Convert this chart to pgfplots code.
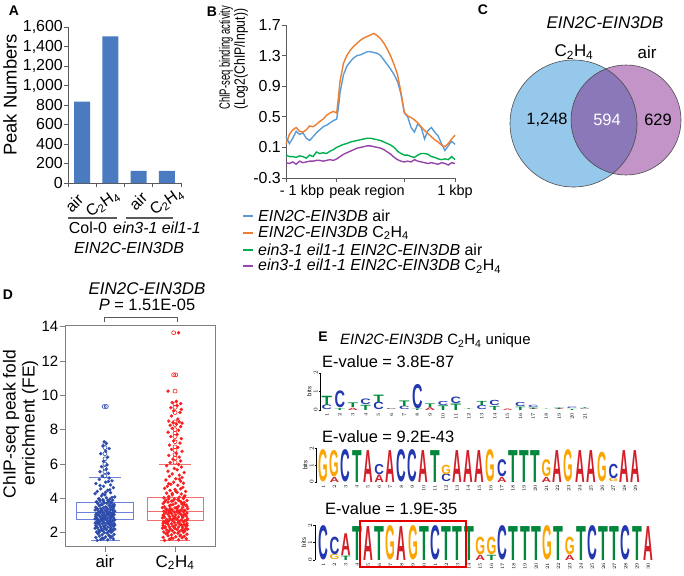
\documentclass[border=0pt]{standalone}
\usepackage{pgfplots}
\pgfplotsset{compat=1.18}
\usepgfplotslibrary{statistics}
\usepackage{graphicx}
\usepackage{fontspec}
\setmainfont{Liberation Sans}
\newcommand{\fs}[1]{\fontsize{#1}{#1}\selectfont}
\newcommand{\CH}{C\textsubscript{2}H\textsubscript{4}}
\definecolor{barblue}{RGB}{74,122,192}
\definecolor{bblue}{RGB}{91,155,213}
\definecolor{borange}{RGB}{237,125,49}
\definecolor{bgreen}{RGB}{0,176,80}
\definecolor{bpurple}{RGB}{150,70,170}
\definecolor{vblue}{RGB}{150,200,236}
\definecolor{vpurple}{RGB}{194,148,200}
\definecolor{voverlap}{RGB}{138,120,184}
\definecolor{dblue}{RGB}{45,75,170}
\definecolor{dbluebox}{RGB}{110,130,220}
\definecolor{dred}{RGB}{250,30,30}
\definecolor{dredbox}{RGB}{240,110,110}
\definecolor{lgA}{RGB}{210,30,40}
\definecolor{lgC}{RGB}{35,55,175}
\definecolor{lgG}{RGB}{250,165,0}
\definecolor{lgT}{RGB}{0,135,60}
\definecolor{axgray}{RGB}{90,90,90}
\newdimen\bitpx
\newdimen\lw
\newcommand{\LA}{\textcolor{lgA}{A}}
\newcommand{\LC}{\textcolor{lgC}{C}}
\newcommand{\LG}{\textcolor{lgG}{G}}
\newcommand{\LT}{\textcolor{lgT}{T}}
\newcommand{\logoL}[4]{\node[anchor=south,inner sep=0pt,outer sep=0pt] at (axis cs:#1,#2) {\resizebox{\lw}{#3\bitpx}{\bfseries\csname L#4\endcsname}};}
\pgfplotsset{logo/.style={scale only axis,anchor=south west,ymin=0,ymax=2,clip=false,
  axis y line*=left,axis x line*=bottom,x axis line style={draw=none},
  axis line style={black,line width=0.5bp},tick style={black,line width=0.5bp},
  tick align=outside,major tick length=2bp,
  ytick={0,1,2},yticklabel style={rotate=90,anchor=south,font=\fs{6},inner sep=0.8bp},
  xtick style={draw=none},xticklabel style={rotate=90,anchor=east,font=\fs{5.5},inner sep=1bp},
  ylabel={bits},ylabel style={font=\fs{6},yshift=-2bp}}}
\begin{document}
\begin{tikzpicture}[x=1bp,y=1bp]
\useasboundingbox (0,0) rectangle (684,-576);

% ================= A =================
\begin{axis}[at={(68bp,-183bp)},anchor=south west,scale only axis,width=113bp,height=156bp,
 xmin=-0.5,xmax=3.5,ymin=0,ymax=1600,enlargelimits=false,
 axis x line*=bottom,axis y line*=left,
 axis line style={axgray,line width=0.9bp},tick style={axgray,line width=0.9bp},
 tick align=outside,major tick length=4bp,
 ytick={0,200,400,600,800,1000,1200,1400,1600},
 yticklabels={0,200,400,600,800,{1,000},{1,200},{1,400},{1,600}},
 yticklabel style={font=\fs{16},inner sep=1bp},
 xtick={-0.5,0.5,1.5,2.5,3.5},xticklabels={},
 ybar,bar width=16bp]
\addplot[fill=barblue,draw=none] coordinates {(0,835) (1,1505) (2,125) (3,125)};
\end{axis}
\node[inner sep=0pt,font=\fs{14}\bfseries] at (14,-11) {A};
\node[inner sep=0pt,rotate=90,font=\fs{18.5}] at (10,-95) {Peak Numbers};
\node[inner sep=0pt,rotate=45,font=\fs{16}] at (74,-203) {air};
\node[inner sep=0pt,rotate=35,font=\fs{16}] at (103,-204) {\CH};
\node[inner sep=0pt,rotate=45,font=\fs{16}] at (138,-201) {air};
\node[inner sep=0pt,rotate=35,font=\fs{16}] at (167,-202) {\CH};
\draw[axgray,line width=1.2bp] (68,-218)--(117,-218);
\draw[axgray,line width=1.2bp] (126,-218)--(173,-218);
\node[inner sep=0pt,font=\fs{16}] at (88,-228) {Col-0};
\node[inner sep=0pt,font=\fs{16}] at (157,-228) {\textit{ein3-1 eil1-1}};
\node[inner sep=0pt,font=\fs{16}] at (129,-248) {\textit{EIN2C-EIN3DB}};

% ================= B =================
\begin{axis}[at={(286bp,-178bp)},anchor=south west,scale only axis,width=169bp,height=153bp,
 xmin=0,xmax=100,ymin=-0.3,ymax=1.7,enlargelimits=false,
 axis x line*=bottom,axis y line*=left,
 axis line style={axgray,line width=0.9bp},tick style={axgray,line width=0.9bp},
 tick align=outside,major tick length=4bp,
 ytick={-0.3,0.1,0.5,0.9,1.3,1.7},yticklabels={-0.3,0.1,0.5,0.9,1.3,1.7},
 yticklabel style={font=\fs{16},inner sep=1bp},
 xtick={0,30,70,100},xticklabels={},clip=false]
\addplot[bblue,line width=1.4bp] coordinates {(0,0.24)(2,0.15)(4,0.22)(6,0.31)(8,0.27)(10,0.29)(12,0.22)(14,0.19)(16,0.24)(18,0.29)(20,0.33)(22,0.37)(24,0.39)(26,0.42)(28,0.45)(30,0.47)(31,0.62)(32,0.82)(34,1.05)(36,1.16)(38,1.22)(40,1.27)(42,1.30)(44,1.31)(46,1.33)(48,1.35)(50,1.35)(52,1.34)(54,1.33)(56,1.30)(58,1.24)(60,1.18)(62,1.12)(64,1.05)(66,0.96)(68,0.80)(70,0.55)(72,0.50)(74,0.36)(76,0.30)(78,0.41)(80,0.36)(82,0.21)(84,0.32)(86,0.36)(88,0.30)(90,0.25)(92,0.15)(94,0.06)(96,0.12)(98,0.18)(100,0.14)};
\addplot[borange,line width=1.4bp] coordinates {(0,0.14)(2,0.27)(4,0.33)(6,0.36)(8,0.31)(10,0.30)(12,0.33)(14,0.38)(16,0.37)(18,0.40)(20,0.44)(22,0.47)(24,0.52)(26,0.55)(28,0.57)(30,0.55)(31,0.75)(32,0.97)(34,1.20)(36,1.30)(38,1.37)(40,1.42)(42,1.46)(44,1.50)(46,1.53)(48,1.55)(50,1.57)(52,1.59)(54,1.56)(56,1.52)(58,1.46)(60,1.38)(62,1.29)(64,1.18)(66,1.05)(68,0.82)(70,0.56)(72,0.51)(74,0.49)(76,0.46)(78,0.42)(80,0.37)(82,0.32)(84,0.28)(86,0.24)(88,0.20)(90,0.17)(92,0.13)(94,0.11)(96,0.15)(98,0.21)(100,0.26)};
\addplot[bgreen,line width=1.4bp] coordinates {(0,0.0)(2,-0.02)(4,-0.02)(6,-0.03)(8,-0.01)(10,-0.02)(12,-0.04)(14,0.0)(16,-0.02)(18,0.04)(20,0.02)(22,0.03)(24,0.02)(26,0.05)(28,0.07)(30,0.10)(32,0.12)(34,0.14)(36,0.15)(38,0.17)(40,0.18)(42,0.19)(44,0.20)(46,0.21)(48,0.22)(50,0.22)(52,0.21)(54,0.20)(56,0.19)(58,0.17)(60,0.15)(62,0.13)(64,0.10)(66,0.05)(68,0.02)(70,0.0)(72,0.0)(74,-0.02)(76,-0.03)(78,0.0)(80,0.02)(82,0.02)(84,0.01)(86,-0.02)(88,-0.03)(90,-0.05)(92,-0.06)(94,-0.05)(96,-0.06)(98,-0.02)(100,-0.06)};
\addplot[bpurple,line width=1.4bp] coordinates {(0,-0.10)(2,-0.11)(4,-0.09)(6,-0.12)(8,-0.08)(10,-0.10)(12,-0.09)(14,-0.08)(16,-0.08)(18,-0.07)(20,-0.07)(22,-0.08)(24,-0.07)(26,-0.06)(28,-0.07)(30,-0.05)(32,-0.02)(34,0.01)(36,0.03)(38,0.05)(40,0.07)(42,0.09)(44,0.10)(46,0.11)(48,0.12)(50,0.12)(52,0.11)(54,0.10)(56,0.09)(58,0.07)(60,0.04)(62,0.01)(64,-0.03)(66,-0.06)(68,-0.08)(70,-0.09)(72,-0.08)(74,-0.09)(76,-0.06)(78,-0.08)(80,-0.09)(82,-0.10)(84,-0.11)(86,-0.10)(88,-0.11)(90,-0.12)(92,-0.10)(94,-0.11)(96,-0.13)(98,-0.10)(100,-0.11)};
\end{axis}
\node[inner sep=0pt,font=\fs{14}\bfseries] at (212,-12) {B};
\node[inner sep=0pt,rotate=90,anchor=west,font=\fs{15}] at (226,-110) {\resizebox{104bp}{\height}{ChIP-seq binding activity}};
\node[inner sep=0pt,rotate=90,anchor=west,font=\fs{15}] at (241,-110) {\resizebox{101bp}{\height}{(Log2(ChIP/Input))}};
\node[inner sep=0pt,font=\fs{14.5}] at (302,-192) {- 1 kbp};
\node[inner sep=0pt,font=\fs{14.5}] at (367,-192) {peak region};
\node[inner sep=0pt,font=\fs{14.5}] at (455,-192) {1 kbp};
\draw[bblue,line width=2.5bp] (243,-216)--(253,-216);
\node[inner sep=0pt,anchor=west,font=\fs{16}] at (258,-216) {\textit{EIN2C-EIN3DB} air};
\draw[borange,line width=2.5bp] (243,-233)--(253,-233);
\node[inner sep=0pt,anchor=west,font=\fs{16}] at (258,-233) {\textit{EIN2C-EIN3DB} \CH};
\draw[bgreen,line width=2.5bp] (243,-250)--(253,-250);
\node[inner sep=0pt,anchor=west,font=\fs{16}] at (258,-250) {\textit{ein3-1 eil1-1 EIN2C-EIN3DB} air};
\draw[bpurple,line width=2.5bp] (243,-266)--(253,-266);
\node[inner sep=0pt,anchor=west,font=\fs{16}] at (258,-266) {\textit{ein3-1 eil1-1 EIN2C-EIN3DB} \CH};

% ================= C =================
\begin{axis}[at={(500bp,-200bp)},anchor=south west,scale only axis,width=184bp,height=160bp,
 xmin=500,xmax=684,ymin=-200,ymax=-40,hide axis,clip=false]
\fill[vblue] (axis cs:573.5,-123.5) circle[radius=63.5];
\fill[vpurple] (axis cs:626,-120) circle[radius=55];
\begin{scope}
\clip (axis cs:573.5,-123.5) circle[radius=63.5];
\fill[voverlap] (axis cs:626,-120) circle[radius=55];
\end{scope}
\draw[black!70,line width=0.6bp] (axis cs:573.5,-123.5) circle[radius=63.5];
\draw[black!70,line width=0.6bp] (axis cs:626,-120) circle[radius=55];
\end{axis}
\node[inner sep=0pt,font=\fs{14}\bfseries] at (483,-10) {C};
\node[inner sep=0pt,font=\fs{17}] at (605,-23) {\textit{EIN2C-EIN3DB}};
\node[inner sep=0pt,font=\fs{17}] at (574,-52) {\CH};
\node[inner sep=0pt,font=\fs{17}] at (647,-52) {air};
\node[inner sep=0pt,font=\fs{16.5}] at (547,-120) {1,248};
\node[inner sep=0pt,font=\fs{16.5},white] at (607,-120) {594};
\node[inner sep=0pt,font=\fs{16.5}] at (658,-120) {629};

% ================= D =================
\begin{axis}[at={(65bp,-546.7bp)},anchor=south west,scale only axis,width=150bp,height=221.7bp,
 xmin=0.43,xmax=2.57,ymin=1.18,ymax=14.1,
 axis line style={gray,line width=0.7bp},tick style={gray,line width=0.7bp},
 tick align=outside,tick pos=left,major tick length=5bp,
 xtick={1,2},xticklabels={air,\CH},xticklabel style={font=\fs{17}},
 ytick={2,4,6,8,10,12,14},yticklabels={2,4,6,8,10,12,14},
 yticklabel style={font=\fs{15},inner sep=1.5bp}]
\addplot[only marks,mark=*,mark size=1.6bp,mark options={fill=dblue,draw=dblue,line width=0.2bp}]
 table[x expr=1+\thisrow{dx},y=y,row sep=\\] {dx y\\
-0.11 1.55\\ 0.04 1.58\\ -0.06 1.60\\ 0.12 1.63\\ -0.02 1.66\\ 0.08 1.70\\ -0.13 1.72\\ 0.01 1.75\\ 0.10 1.78\\ -0.08 1.80\\
0.06 1.84\\ -0.04 1.88\\ 0.13 1.90\\ -0.10 1.94\\ 0.03 1.97\\ -0.01 2.00\\ 0.09 2.02\\ -0.12 2.04\\ 0.05 2.06\\ -0.07 2.08\\
0.11 2.10\\ -0.03 2.12\\ 0.07 2.14\\ -0.09 2.16\\ 0.02 2.18\\ 0.14 2.20\\ -0.05 2.22\\ 0.00 2.24\\ -0.14 2.26\\ 0.08 2.28\\
-0.11 2.30\\ 0.04 2.32\\ -0.06 2.34\\ 0.12 2.36\\ -0.02 2.38\\ 0.08 2.40\\ -0.13 2.42\\ 0.01 2.44\\ 0.10 2.46\\ -0.08 2.48\\
0.06 2.50\\ -0.04 2.52\\ 0.13 2.53\\ -0.10 2.55\\ 0.03 2.57\\ -0.01 2.58\\ 0.09 2.60\\ -0.12 2.62\\ 0.05 2.63\\ -0.07 2.65\\
0.11 2.67\\ -0.03 2.68\\ 0.07 2.70\\ -0.09 2.72\\ 0.02 2.73\\ 0.14 2.75\\ -0.05 2.77\\ 0.00 2.78\\ -0.14 2.80\\ 0.08 2.82\\
-0.11 2.83\\ 0.04 2.85\\ -0.06 2.87\\ 0.12 2.88\\ -0.02 2.90\\ 0.08 2.92\\ -0.13 2.93\\ 0.01 2.95\\ 0.10 2.97\\ -0.08 2.98\\
0.06 3.00\\ -0.04 3.02\\ 0.13 3.04\\ -0.10 3.05\\ 0.03 3.07\\ -0.01 3.09\\ 0.09 3.10\\ -0.12 3.12\\ 0.05 3.14\\ -0.07 3.15\\
0.11 3.17\\ -0.03 3.19\\ 0.07 3.20\\ -0.09 3.22\\ 0.02 3.24\\ 0.14 3.26\\ -0.05 3.28\\ 0.00 3.30\\ -0.14 3.32\\ 0.08 3.34\\
-0.11 3.36\\ 0.04 3.38\\ -0.06 3.40\\ 0.12 3.42\\ -0.02 3.44\\ 0.08 3.46\\ -0.13 3.48\\ 0.01 3.50\\ 0.10 3.53\\ -0.08 3.56\\
0.06 3.59\\ -0.04 3.62\\ 0.13 3.65\\ -0.10 3.68\\ 0.03 3.71\\ -0.01 3.74\\ 0.09 3.77\\ -0.12 3.80\\ 0.05 3.83\\ -0.07 3.86\\
0.11 3.89\\ -0.03 3.92\\ 0.07 3.95\\ -0.09 3.98\\ 0.02 4.03\\ 0.14 4.08\\ -0.05 4.14\\ 0.00 4.20\\ -0.14 4.27\\ 0.08 4.33\\
-0.11 4.40\\ 0.04 4.47\\ -0.06 4.55\\ 0.12 4.62\\ -0.02 4.70\\ 0.08 4.78\\ -0.13 4.86\\ 0.01 4.94\\ 0.10 5.02\\ -0.08 5.10\\
0.06 5.18\\ -0.04 5.30\\ 0.05 5.45\\ -0.07 5.55\\ 0.02 5.70\\ -0.05 5.85\\ 0.03 5.95\\ -0.02 6.15\\ 0.04 6.40\\ -0.06 6.60\\
0.01 6.75\\ 0.06 6.90\\ -0.03 7.05\\ 0.02 7.20\\ -0.01 7.30\\
0.12 2.21\\ -0.12 2.35\\ 0.06 2.49\\ -0.09 2.61\\ 0.13 2.74\\ -0.03 2.86\\ 0.09 2.96\\ -0.13 3.03\\ 0.05 3.13\\ -0.07 3.23\\
0.11 3.31\\ -0.11 3.39\\ 0.02 3.47\\ 0.13 3.55\\ -0.05 3.64\\ 0.08 3.72\\ -0.12 3.79\\ 0.04 3.88\\ -0.08 3.96\\ 0.10 4.05\\
-0.03 4.25\\ 0.07 4.50\\ -0.10 2.69\\ 0.00 2.91\\ 0.12 3.08\\ -0.06 3.18\\ 0.03 3.27\\ -0.14 2.56\\ 0.14 2.44\\ -0.01 2.31\\
0.09 2.15\\ -0.09 1.99\\ 0.06 1.82\\ -0.04 1.68\\ 0.11 3.61\\ -0.02 3.84\\ 0.01 4.35\\ -0.07 4.75\\ 0.05 4.98\\ -0.05 3.35\\
};
\addplot[only marks,mark=*,mark size=1.6bp,mark options={fill=dred,draw=dred,line width=0.2bp}]
 table[x expr=2+\thisrow{dx},y=y,row sep=\\] {dx y\\
-0.15 1.55\\ 0.05 1.58\\ -0.08 1.61\\ 0.16 1.64\\ -0.03 1.67\\ 0.10 1.70\\ -0.17 1.73\\ 0.01 1.76\\ 0.13 1.79\\ -0.10 1.82\\
0.08 1.85\\ -0.05 1.88\\ 0.17 1.91\\ -0.13 1.94\\ 0.04 1.97\\ -0.01 2.00\\ 0.12 2.02\\ -0.16 2.04\\ 0.06 2.06\\ -0.09 2.08\\
0.14 2.10\\ -0.04 2.12\\ 0.09 2.14\\ -0.12 2.16\\ 0.03 2.18\\ 0.18 2.20\\ -0.07 2.22\\ 0.00 2.24\\ -0.18 2.26\\ 0.11 2.28\\
-0.15 2.30\\ 0.05 2.32\\ -0.08 2.34\\ 0.16 2.36\\ -0.03 2.38\\ 0.10 2.40\\ -0.17 2.42\\ 0.01 2.44\\ 0.13 2.46\\ -0.10 2.48\\
0.08 2.50\\ -0.05 2.52\\ 0.17 2.54\\ -0.13 2.56\\ 0.04 2.58\\ -0.01 2.60\\ 0.12 2.62\\ -0.16 2.64\\ 0.06 2.66\\ -0.09 2.68\\
0.14 2.70\\ -0.04 2.72\\ 0.09 2.74\\ -0.12 2.76\\ 0.03 2.78\\ 0.18 2.80\\ -0.07 2.82\\ 0.00 2.84\\ -0.18 2.86\\ 0.11 2.88\\
-0.15 2.90\\ 0.05 2.92\\ -0.08 2.94\\ 0.16 2.96\\ -0.03 2.98\\ 0.10 3.00\\ -0.17 3.02\\ 0.01 3.04\\ 0.13 3.06\\ -0.10 3.08\\
0.08 3.10\\ -0.05 3.12\\ 0.17 3.14\\ -0.13 3.16\\ 0.04 3.18\\ -0.01 3.20\\ 0.12 3.22\\ -0.16 3.24\\ 0.06 3.26\\ -0.09 3.28\\
0.14 3.30\\ -0.04 3.32\\ 0.09 3.34\\ -0.12 3.36\\ 0.03 3.38\\ 0.18 3.40\\ -0.07 3.42\\ 0.00 3.44\\ -0.18 3.46\\ 0.11 3.48\\
-0.15 3.51\\ 0.05 3.54\\ -0.08 3.57\\ 0.16 3.60\\ -0.03 3.63\\ 0.10 3.66\\ -0.17 3.69\\ 0.01 3.72\\ 0.13 3.75\\ -0.10 3.78\\
0.08 3.81\\ -0.05 3.84\\ 0.17 3.87\\ -0.13 3.90\\ 0.04 3.93\\ -0.01 3.96\\ 0.12 3.99\\ -0.16 4.03\\ 0.06 4.07\\ -0.09 4.11\\
0.14 4.15\\ -0.04 4.20\\ 0.09 4.25\\ -0.12 4.30\\ 0.03 4.35\\ 0.15 4.40\\ -0.07 4.46\\ 0.00 4.52\\ -0.15 4.58\\ 0.11 4.64\\
-0.11 4.70\\ 0.04 4.76\\ -0.06 4.82\\ 0.12 4.88\\ -0.02 4.94\\ 0.08 5.00\\ -0.13 5.07\\ 0.01 5.14\\ 0.10 5.21\\ -0.08 5.28\\
0.06 5.35\\ -0.04 5.42\\ 0.13 5.50\\ -0.10 5.58\\ 0.03 5.66\\ -0.01 5.74\\ 0.09 5.82\\ -0.12 5.90\\ 0.05 5.97\\
-0.07 6.08\\ 0.08 6.18\\ -0.03 6.28\\ 0.06 6.40\\ -0.09 6.50\\ 0.02 6.62\\ 0.10 6.74\\ -0.05 6.85\\ 0.04 6.97\\ -0.08 7.10\\
0.07 7.22\\ -0.02 7.35\\ 0.09 7.48\\ -0.06 7.60\\ 0.03 7.72\\ -0.10 7.85\\ 0.05 7.97\\ -0.04 8.08\\ 0.08 8.18\\ -0.07 8.26\\
0.02 8.32\\ 0.10 8.38\\ -0.03 8.42\\ 0.06 8.46\\ -0.09 8.50\\ 0.04 8.62\\ -0.05 8.80\\ 0.07 9.00\\ -0.02 9.10\\ 0.09 9.18\\
-0.06 9.28\\ 0.03 9.40\\ 0.08 9.52\\ -0.04 9.58\\ 0.02 9.65\\ -0.10 10.25\\ 0.05 13.65\\
0.15 2.21\\ -0.14 2.33\\ 0.07 2.47\\ -0.11 2.59\\ 0.16 2.71\\ -0.02 2.83\\ 0.11 2.95\\ -0.16 3.05\\ 0.06 3.13\\ -0.08 3.21\\
0.13 3.29\\ -0.13 3.37\\ 0.02 3.45\\ 0.17 3.53\\ -0.06 3.61\\ 0.10 3.71\\ -0.15 3.80\\ 0.05 3.89\\ -0.09 3.97\\ 0.13 4.09\\
-0.04 4.28\\ 0.08 4.55\\ -0.12 2.67\\ 0.00 2.89\\ 0.14 3.07\\ -0.07 3.17\\ 0.03 3.25\\ -0.17 2.55\\ 0.17 2.43\\ -0.01 2.29\\
0.11 2.13\\ -0.11 1.98\\ 0.07 1.81\\ -0.05 1.69\\ 0.13 3.63\\ -0.03 3.85\\ 0.01 4.42\\ -0.09 4.85\\ 0.06 5.12\\ -0.06 3.33\\
};
\addplot[only marks,mark=o,mark size=2bp,dblue,line width=0.6bp] coordinates {(1,5.3)(1,5.55)(1,5.75)(1,6.0)(1,6.3)(1,6.6)(1,6.95)(1,7.2)(0.99,9.35)(1.02,9.35)};
\addplot[only marks,mark=o,mark size=2bp,dred,line width=0.6bp] coordinates {(2,6.1)(2,6.35)(2,6.55)(2,6.8)(2,7.0)(2,7.3)(2,7.6)(2,7.8)(2,8.0)(2,8.3)(2,8.45)(2,9.0)(2,9.3)(2,9.5)(2,10.25)(1.98,11.2)(2.01,11.2)(1.98,13.65)};
\addplot[dbluebox,line width=0.9bp,boxplot/draw direction=y,boxplot prepared={draw position=1,median=3.16,lower quartile=2.75,upper quartile=3.75,lower whisker=2.75,upper whisker=3.75,box extend=0.8,whisker extend=0}] coordinates {};
\addplot[dredbox,line width=0.9bp,boxplot/draw direction=y,boxplot prepared={draw position=2,median=3.25,lower quartile=2.73,upper quartile=4.06,lower whisker=2.73,upper whisker=4.06,box extend=0.8,whisker extend=0}] coordinates {};
\addplot[dbluebox,line width=0.9bp] coordinates {(0.775,5.22)(1.225,5.22)};
\addplot[dbluebox,line width=0.9bp] coordinates {(0.8,1.57)(1.22,1.57)};
\addplot[dredbox,line width=0.9bp] coordinates {(1.775,6.0)(2.225,6.0)};
\addplot[dredbox,line width=0.9bp] coordinates {(1.78,1.57)(2.22,1.57)};
\end{axis}
\node[inner sep=0pt,font=\fs{14}\bfseries] at (8,-295) {D};
\node[inner sep=0pt,rotate=90,font=\fs{17.5}] at (11,-424) {ChIP-seq peak fold};
\node[inner sep=0pt,rotate=90,font=\fs{17.5}] at (30,-423) {enrichment (FE)};
\node[inner sep=0pt,font=\fs{17}] at (147,-289) {\textit{EIN2C-EIN3DB}};
\node[inner sep=0pt,font=\fs{16.5}] at (147,-305) {\textit{P} = 1.51E-05};
\draw[axgray,line width=0.8bp] (104,-322)--(104,-317)--(177,-317)--(177,-322);

% ================= E =================
\node[inner sep=0pt,font=\fs{14}\bfseries] at (323,-337) {E};
\node[inner sep=0pt,anchor=west,font=\fs{15}] at (340,-341) {\textit{EIN2C-EIN3DB} \CH{} unique};
\node[inner sep=0pt,anchor=west,font=\fs{16.5}] at (322,-362) {E-value = 3.8E-87};
\node[inner sep=0pt,anchor=west,font=\fs{16.5}] at (322,-437) {E-value = 9.2E-43};
\node[inner sep=0pt,anchor=west,font=\fs{16.5}] at (325,-509) {E-value = 1.9E-35};

\bitpx=18.5bp \lw=10.5bp
\begin{axis}[logo,at={(320.5bp,-410bp)},width=270.9bp,height=37bp,xmin=0.5,xmax=21.5,xtick={1,...,21}]
\logoL{1}{0}{0.25}{C}\logoL{1}{0.25}{0.5}{T}
\logoL{2}{0}{0.1}{T}\logoL{2}{0.1}{0.9}{C}
\logoL{3}{0}{0.12}{A}\logoL{3}{0.12}{0.25}{T}
\logoL{4}{0}{0.28}{T}\logoL{4}{0.28}{0.3}{C}
\logoL{5}{0}{0.4}{C}\logoL{5}{0.4}{0.4}{T}
\logoL{6}{0}{0.04}{G}\logoL{6}{0.04}{0.04}{C}
\logoL{7}{0}{0.18}{C}\logoL{7}{0.18}{0.3}{T}
\logoL{8}{0}{0.08}{T}\logoL{8}{0.08}{1.3}{C}
\logoL{9}{0}{0.15}{A}\logoL{9}{0.15}{0.2}{T}
\logoL{10}{0}{0.25}{T}\logoL{10}{0.25}{0.22}{C}
\logoL{11}{0}{0.35}{T}\logoL{11}{0.35}{0.35}{C}
\logoL{12}{0}{0.04}{T}
\logoL{13}{0}{0.22}{C}\logoL{13}{0.22}{0.22}{T}
\logoL{14}{0}{0.22}{T}\logoL{14}{0.22}{0.28}{C}
\logoL{15}{0}{0.08}{A}
\logoL{16}{0}{0.18}{T}\logoL{16}{0.18}{0.22}{C}
\logoL{17}{0}{0.05}{A}\logoL{17}{0.05}{0.08}{T}\logoL{17}{0.13}{0.12}{C}
\logoL{18}{0}{0.02}{T}
\logoL{19}{0}{0.05}{A}\logoL{19}{0.05}{0.08}{T}
\logoL{20}{0}{0.06}{T}\logoL{20}{0.06}{0.08}{C}
\logoL{21}{0}{0.03}{G}\logoL{21}{0.03}{0.03}{C}\logoL{21}{0.06}{0.04}{T}
\end{axis}

\bitpx=16.8bp \lw=9.6bp
\begin{axis}[logo,at={(316.7bp,-482bp)},width=324.5bp,height=33.6bp,xmin=0.4,xmax=29.5,xtick={1,...,29}]
\logoL{1}{0}{1.9}{G}
\logoL{2}{0}{0.3}{A}\logoL{2}{0.3}{1.55}{G}
\logoL{3}{0}{1.9}{C}
\logoL{4}{0}{1.9}{T}
\logoL{5}{0}{1.9}{A}
\logoL{6}{0}{0.45}{A}\logoL{6}{0.45}{0.6}{C}
\logoL{7}{0}{1.9}{A}
\logoL{8}{0}{1.9}{C}
\logoL{9}{0}{1.9}{C}
\logoL{10}{0}{1.9}{A}
\logoL{11}{0}{1.9}{T}
\logoL{12}{0}{0.45}{C}\logoL{12}{0.45}{0.55}{G}
\logoL{13}{0}{1.9}{A}
\logoL{14}{0}{1.9}{A}
\logoL{15}{0}{1.9}{A}
\logoL{16}{0}{1.9}{G}
\logoL{17}{0}{0.3}{A}\logoL{17}{0.3}{1.0}{C}
\logoL{18}{0}{1.9}{T}
\logoL{19}{0}{1.9}{T}
\logoL{20}{0}{1.9}{T}
\logoL{21}{0}{0.3}{A}\logoL{21}{0.3}{1.0}{G}
\logoL{22}{0}{1.9}{A}
\logoL{23}{0}{1.9}{G}
\logoL{24}{0}{1.9}{A}
\logoL{25}{0}{1.9}{A}
\logoL{26}{0}{1.75}{G}
\logoL{27}{0}{0.2}{G}\logoL{27}{0.2}{0.85}{C}
\logoL{28}{0}{1.9}{A}
\logoL{29}{0}{1.9}{A}
\end{axis}

\bitpx=17.4bp \lw=9.8bp
\begin{axis}[logo,at={(315bp,-560bp)},width=338.8bp,height=34.8bp,xmin=0.25,xmax=30.5,xtick={1,...,30}]
\logoL{1}{0}{1.95}{C}
\logoL{2}{0}{0.3}{G}\logoL{2}{0.3}{1.0}{C}
\logoL{3}{0}{0.25}{T}\logoL{3}{0.25}{1.25}{A}
\logoL{4}{0}{1.95}{T}
\logoL{5}{0}{1.95}{A}
\logoL{6}{0}{1.95}{T}
\logoL{7}{0}{1.95}{G}
\logoL{8}{0}{1.95}{A}
\logoL{9}{0}{1.95}{G}
\logoL{10}{0}{1.95}{T}
\logoL{11}{0}{1.95}{C}
\logoL{12}{0}{1.95}{T}
\logoL{13}{0}{1.95}{T}
\logoL{14}{0}{1.95}{T}
\logoL{15}{0}{0.3}{A}\logoL{15}{0.3}{1.0}{G}
\logoL{16}{0}{0.3}{T}\logoL{16}{0.3}{1.0}{G}
\logoL{17}{0}{1.95}{C}
\logoL{18}{0}{1.95}{T}
\logoL{19}{0}{1.95}{T}
\logoL{20}{0}{1.95}{T}
\logoL{21}{0}{1.95}{G}
\logoL{22}{0}{1.95}{T}
\logoL{23}{0}{0.3}{A}\logoL{23}{0.3}{1.0}{G}
\logoL{24}{0}{1.95}{T}
\logoL{25}{0}{1.95}{C}
\logoL{26}{0}{1.95}{T}
\logoL{27}{0}{1.95}{T}
\logoL{28}{0}{1.95}{C}
\logoL{29}{0}{1.95}{T}
\logoL{30}{0}{1.95}{A}
\end{axis}
\draw[red!90!black,line width=2bp] (360,-520.7) rectangle (465.7,-567.3);
\end{tikzpicture}
\end{document}
